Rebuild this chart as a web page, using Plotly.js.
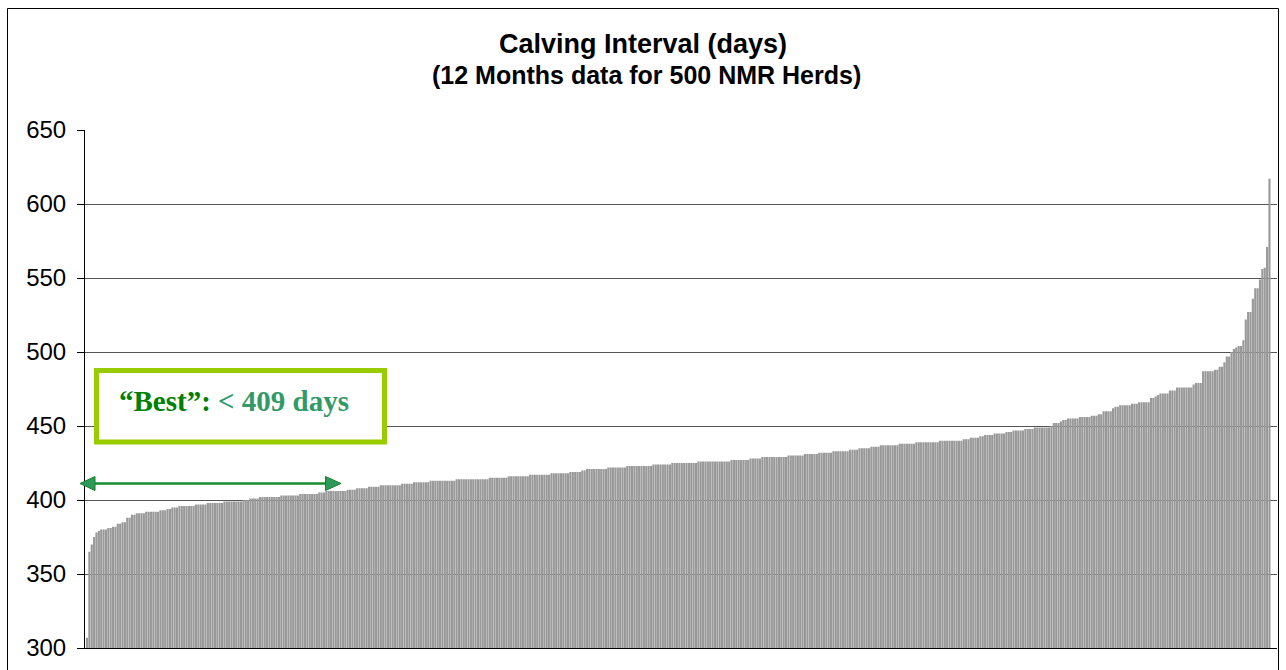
<!DOCTYPE html>
<html>
<head>
<meta charset="utf-8">
<script src="https://cdn.plot.ly/plotly-3.0.1.min.js"></script>
<style>
html,body{margin:0;padding:0;background:#fff;}
#chart{width:1286px;height:670px;}
</style>
</head>
<body>
<div id="chart"></div>
<script>
// Calving interval (days) per herd, sorted ascending (500 NMR herds)
const calvingInterval = [
  307,365,370,375,378,379,380,380,380,381,
  381,382,382,384,384,385,385,388,388,390,
  390,391,391,391,391,392,392,392,392,392,
  392,393,393,393,394,394,395,395,395,396,
  396,396,396,396,396,396,397,397,397,397,
  397,398,398,398,398,398,398,398,399,399,
  399,399,399,399,399,399,400,400,400,401,
  401,401,401,402,402,402,402,402,402,402,
  402,402,403,403,403,403,403,403,403,403,
  404,404,404,404,404,404,404,404,405,405,
  405,406,406,406,406,406,406,406,406,406,
  407,407,407,407,408,408,408,408,408,409,
  409,409,409,409,410,410,410,410,410,410,
  410,410,410,411,411,411,411,411,412,412,
  412,412,412,412,412,413,413,413,413,413,
  413,413,413,413,413,413,414,414,414,414,
  414,414,414,414,414,414,414,414,414,414,
  415,415,415,415,415,415,415,415,416,416,
  416,416,416,416,416,416,416,417,417,417,
  417,417,417,417,417,417,418,418,418,418,
  418,418,418,418,419,419,419,419,419,420,
  420,421,421,421,421,421,421,421,421,421,
  422,422,422,422,422,422,422,422,423,423,
  423,423,423,423,423,423,423,423,423,424,
  424,424,424,424,424,424,424,425,425,425,
  425,425,425,425,425,425,425,425,426,426,
  426,426,426,426,426,426,426,426,426,426,
  426,426,427,427,427,427,427,427,427,427,
  428,428,428,428,428,429,429,429,429,429,
  429,429,429,429,429,429,430,430,430,430,
  430,430,430,431,431,431,431,431,431,432,
  432,432,432,432,432,433,433,433,433,433,
  433,433,434,434,434,434,435,435,435,435,
  435,436,436,436,436,437,437,437,437,437,
  437,437,437,438,438,438,438,438,438,438,
  439,439,439,439,439,439,439,439,439,439,
  440,440,440,440,440,440,440,440,440,440,
  441,441,441,442,442,442,442,443,443,444,
  444,444,444,445,445,445,445,445,446,446,
  446,447,447,447,447,447,448,448,448,448,
  449,449,449,449,449,449,449,450,452,452,
  452,453,454,454,455,455,455,455,455,456,
  456,456,456,456,457,457,457,458,458,460,
  460,460,460,462,463,463,464,464,464,464,
  464,465,465,465,466,466,466,466,466,469,
  469,470,471,472,472,472,472,474,474,474,
  476,476,476,476,476,476,476,478,479,479,
  479,487,487,487,487,487,488,488,490,490,
  493,497,497,500,502,503,504,504,508,522,
  527,527,536,543,543,549,556,557,571,617
];
// Herd rank (category axis, no labels shown)
const herdRank = calvingInterval.map((_, i) => i + 1);
const yTickValues = [300, 350, 400, 450, 500, 550, 600, 650];

const titleText = 'Calving Interval (days)';
const subtitleText = '(12 Months data for 500 NMR Herds)';
const bestLabel = '\u201CBest\u201D:';
const bestValue = '< 409 days';

// pixel -> paper helpers (plot area: x 85..1277, y 130..648)
const L = 85, R = 1277, T = 130, B = 648;
const px = p => (p - L) / (R - L);
const py = p => (B - p) / (B - T);

const trace = {
  type: 'bar',
  x: herdRank.map(r => r - 1),
  y: calvingInterval,
  marker: { color: '#999999', line: { width: 0 } },
  hoverinfo: 'y'
};

const layout = {
  width: 1286, height: 670,
  margin: { l: L, r: 1286 - R, t: T, b: 670 - B, pad: 0 },
  paper_bgcolor: '#ffffff', plot_bgcolor: '#ffffff',
  showlegend: false,
  bargap: 0.1,
  font: { family: 'Liberation Sans, Arial, sans-serif', color: '#000' },
  title: {
    text: '<b>' + titleText + '</b>',
    font: { family: 'Liberation Sans, Arial, sans-serif', size: 27, color: '#000' },
    x: 0.5, xref: 'container', xanchor: 'center',
    y: 1 - 44 / 670, yref: 'container', yanchor: 'middle'
  },
  xaxis: {
    range: [-0.844, 502.18],
    showticklabels: false, ticks: '',
    showgrid: false, zeroline: false,
    showline: true, linecolor: '#000', linewidth: 1,
    fixedrange: true
  },
  yaxis: {
    range: [300, 650],
    tickvals: yTickValues,
    ticktext: yTickValues.map(String),
    ticks: 'outside', ticklen: 7, tickcolor: '#000', tickwidth: 1,
    ticklabelstandoff: 6,
    tickfont: { family: 'Liberation Sans, Arial, sans-serif', size: 24, color: '#000' },
    showgrid: true, gridcolor: '#555555', gridwidth: 1,
    zeroline: false,
    showline: true, linecolor: '#000', linewidth: 1,
    fixedrange: true
  },
  shapes: [
    // outer chart frame
    { type: 'rect', xref: 'paper', yref: 'paper', layer: 'above',
      x0: px(7.5), x1: px(1278.5), y0: py(8.5), y1: py(680),
      line: { color: '#000', width: 1 }, fillcolor: 'rgba(0,0,0,0)' },
    // "Best" box
    { type: 'rect', xref: 'paper', yref: 'paper', layer: 'above',
      x0: px(96.5), x1: px(384.5), y0: py(442), y1: py(370.5),
      line: { color: '#99cc00', width: 5 }, fillcolor: '#ffffff' },
    // double arrow shaft
    { type: 'line', xref: 'paper', yref: 'paper', layer: 'above',
      x0: px(92), x1: px(329), y0: py(483.5), y1: py(483.5),
      line: { color: '#1a8c2a', width: 2.7 } },
    // left head
    { type: 'path', xref: 'paper', yref: 'paper', layer: 'above',
      path: 'M ' + px(80) + ' ' + py(483.5) + ' L ' + px(95) + ' ' + py(476.5) +
            ' L ' + px(95) + ' ' + py(490.5) + ' Z',
      fillcolor: '#2e9a5a', line: { color: '#1a7f2a', width: 1 } },
    // right head
    { type: 'path', xref: 'paper', yref: 'paper', layer: 'above',
      path: 'M ' + px(341) + ' ' + py(483.5) + ' L ' + px(325.5) + ' ' + py(476.5) +
            ' L ' + px(325.5) + ' ' + py(490.5) + ' Z',
      fillcolor: '#2e9a5a', line: { color: '#1a7f2a', width: 1 } }
  ],
  annotations: [
    { xref: 'paper', yref: 'paper', x: px(646), y: py(75),
      xanchor: 'center', yanchor: 'middle', showarrow: false,
      text: '<b>' + subtitleText + '</b>',
      font: { family: 'Liberation Sans, Arial, sans-serif', size: 25, color: '#000' } },
    { xref: 'paper', yref: 'paper', x: px(234), y: py(401),
      xanchor: 'center', yanchor: 'middle', showarrow: false,
      text: '<b><span style="color:#008000">' + bestLabel + '</span> <span style="color:#339966">' + bestValue + '</span></b>',
      font: { family: 'Liberation Serif, Times New Roman, serif', size: 29, color: '#339966' } }
  ]
};

Plotly.newPlot('chart', [trace], layout, { displayModeBar: false, staticPlot: true });
</script>
</body>
</html>
